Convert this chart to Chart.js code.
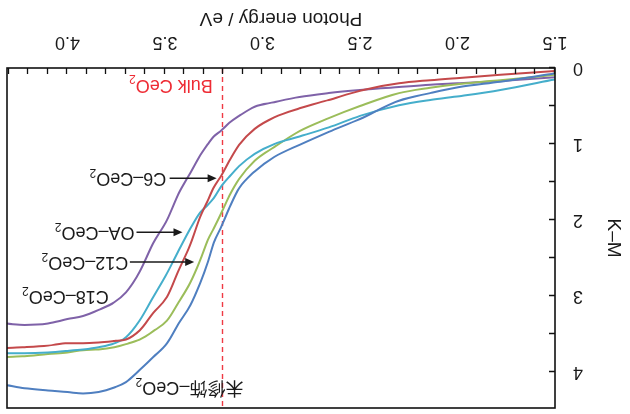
<!DOCTYPE html>
<html><head><meta charset="utf-8">
<script src="https://cdn.jsdelivr.net/npm/chart.js@4.4.0/dist/chart.umd.min.js"></script>
<style>
html,body{margin:0;padding:0;background:#fff;}
#wrap{width:630px;height:414px;transform:rotate(180deg);transform-origin:50% 50%;}
canvas{display:block;}
</style>
</head><body>
<div id="wrap"><canvas id="c" width="630" height="414"></canvas></div>
<script>
// Photon energy (eV)
const energy = [1.50,1.78,1.99,2.14,2.30,2.50,2.66,2.81,2.94,3.04,3.12,3.17,3.21,3.25,3.28,3.32,3.37,3.43,3.49,3.56,3.63,3.70,3.76,3.84,3.92,4.00,4.10,4.22,4.31];
// K-M values
const kmUnmod = [0.07,0.18,0.25,0.33,0.43,0.67,0.84,1.01,1.17,1.36,1.58,1.84,2.08,2.30,2.55,2.83,3.12,3.36,3.62,3.80,3.97,4.13,4.20,4.26,4.28,4.26,4.24,4.21,4.17];
const kmC6 = [0.04,0.09,0.13,0.16,0.20,0.30,0.42,0.53,0.65,0.80,1.01,1.22,1.41,1.57,1.74,1.96,2.32,2.66,3.01,3.22,3.45,3.57,3.59,3.61,3.62,3.62,3.65,3.67,3.68];
const kmOA = [0.15,0.29,0.37,0.42,0.49,0.63,0.78,0.90,1.00,1.13,1.29,1.43,1.55,1.71,1.80,1.90,2.11,2.40,2.70,3.01,3.32,3.54,3.62,3.67,3.70,3.72,3.74,3.75,3.75];
const kmC12 = [0.09,0.16,0.21,0.26,0.33,0.50,0.66,0.83,1.04,1.22,1.46,1.68,1.90,2.11,2.26,2.53,2.82,3.08,3.32,3.46,3.57,3.63,3.67,3.70,3.71,3.74,3.76,3.79,3.80];
const kmC18 = [0.12,0.17,0.20,0.22,0.25,0.29,0.33,0.38,0.45,0.51,0.63,0.72,0.82,0.90,1.00,1.15,1.38,1.65,2.00,2.30,2.68,2.95,3.08,3.18,3.26,3.30,3.36,3.38,3.36];
const seriesNames = ['未修饰–CeO2','C6–CeO2','OA–CeO2','C12–CeO2','C18–CeO2'];
const xTickValues = [1.5,2.0,2.5,3.0,3.5,4.0];
const yTickValues = [0,1,2,3,4];
const bulkGap = 3.2;

const FONT = '"Liberation Sans", Arial, "Noto Sans CJK SC", sans-serif';
const colors = ['#4f7fc0','#c4494b','#45aecb','#9bbd5a','#7f62a8'];
const seriesData = [kmUnmod,kmC6,kmOA,kmC12,kmC18];

const notes = [
  {main:'Bulk CeO', sub:'2', e:3.255, km:0.22, align:'left', color:'#ee2b34'},
  {main:'C6–CeO', sub:'2', e:3.69, km:1.45, align:'center', color:'#1a1a1a', arrow:[3.476,3.235]},
  {main:'OA–CeO', sub:'2', e:3.86, km:2.16, align:'center', color:'#1a1a1a', arrow:[3.646,3.41]},
  {main:'C12–CeO', sub:'2', e:3.91, km:2.55, align:'center', color:'#1a1a1a', arrow:[3.68,3.35]},
  {main:'C18–CeO', sub:'2', e:4.01, km:3.0, align:'center', color:'#1a1a1a'},
  {main:'未修饰–CeO', sub:'2', e:3.374, km:4.2, align:'center', color:'#1a1a1a'}
];

function drawSubLabel(ctx, n, x, y){
  const size = 18, subSize = 12;
  const mf = size + 'px ' + FONT, sf = subSize + 'px ' + FONT;
  ctx.font = mf; const w1 = ctx.measureText(n.main).width;
  ctx.font = sf; const w2 = ctx.measureText(n.sub).width;
  const tot = w1 + w2;
  let sx = n.align === 'left' ? x : (n.align === 'right' ? x - tot : x - tot/2);
  ctx.fillStyle = n.color; ctx.textAlign = 'left'; ctx.textBaseline = 'middle';
  ctx.font = mf; ctx.fillText(n.main, sx, y);
  ctx.font = sf; ctx.fillText(n.sub, sx + w1, y + 6);
}

const deco = {
  id:'deco',
  beforeDatasetsDraw(chart){
    const {ctx, chartArea:a, scales:{x}} = chart;
    ctx.save();
    ctx.strokeStyle = '#ef3a44'; ctx.lineWidth = 1.4; ctx.setLineDash([5,4]);
    const bx = Math.round(x.getPixelForValue(bulkGap)) + 0.5;
    ctx.beginPath(); ctx.moveTo(bx, a.bottom); ctx.lineTo(bx, a.top); ctx.stroke();
    ctx.restore();
  },
  afterDatasetsDraw(chart){
    const {ctx, chartArea:a, scales:{x,y}} = chart;
    ctx.save();
    ctx.strokeStyle = '#111'; ctx.lineWidth = 1.6;
    ctx.strokeRect(a.left, a.top, a.right - a.left, a.bottom - a.top);
    ctx.lineWidth = 1.3;
    ctx.beginPath();
    for (let i = 15; i <= 43; i++) {
      const px = Math.round(x.getPixelForValue(i/10)) + 0.5;
      ctx.moveTo(px, a.bottom); ctx.lineTo(px, a.bottom - 6);
    }
    for (let j = 0; j <= 8; j++) {
      const py = Math.round(y.getPixelForValue(j/2)) + 0.5;
      ctx.moveTo(a.left, py); ctx.lineTo(a.left + 6, py);
    }
    ctx.stroke();
    notes.forEach(n => {
      const px = x.getPixelForValue(n.e), py = y.getPixelForValue(n.km);
      drawSubLabel(ctx, n, px, py);
      if (n.arrow) {
        const x1 = x.getPixelForValue(n.arrow[0]), x2 = x.getPixelForValue(n.arrow[1]);
        ctx.strokeStyle = '#1a1a1a'; ctx.fillStyle = '#1a1a1a'; ctx.lineWidth = 1.6;
        ctx.beginPath(); ctx.moveTo(x1, py); ctx.lineTo(x2 + 7, py); ctx.stroke();
        ctx.beginPath(); ctx.moveTo(x2, py); ctx.lineTo(x2 + 9, py - 4); ctx.lineTo(x2 + 9, py + 4); ctx.closePath(); ctx.fill();
      }
    });
    ctx.restore();
  }
};

function noPad(s){ s.paddingTop = 0; s.paddingBottom = 0; s.paddingLeft = 0; s.paddingRight = 0; }

new Chart(document.getElementById('c'), {
  type:'line',
  data:{
    datasets: seriesNames.map((nm,i) => ({
      label:nm,
      data: energy.map((e,k) => ({x:e, y:seriesData[i][k]})),
      borderColor: colors[i], borderWidth: 2, pointRadius: 0, cubicInterpolationMode:'monotone', fill:false
    }))
  },
  options:{
    responsive:false, animation:false, devicePixelRatio:1,
    layout:{padding:{top:6, right:7, left:0, bottom:0}},
    plugins:{legend:{display:false}, tooltip:{enabled:false}},
    scales:{
      x:{
        type:'linear', min:1.5, max:4.31,
        afterBuildTicks: s => { s.ticks = xTickValues.map(v => ({value:v})); },
        afterFit: s => { s.height = 68; noPad(s); },
        grid:{display:false, drawTicks:false},
        border:{display:false},
        ticks:{padding:15, color:'#1a1a1a', font:{family:FONT, size:18}, callback: v => Number(v).toFixed(1), maxRotation:0, autoSkip:false},
        title:{display:true, text:'Photon energy / eV', color:'#1a1a1a', font:{family:FONT, size:19}, padding:{top:0, bottom:7}}
      },
      y:{
        type:'linear', min:0, max:4.47,
        afterBuildTicks: s => { s.ticks = yTickValues.map(v => ({value:v})); },
        afterFit: s => { s.width = 75; noPad(s); },
        grid:{display:false, drawTicks:false},
        border:{display:false},
        ticks:{padding:18, color:'#1a1a1a', font:{family:FONT, size:18}, callback: v => String(v)},
        title:{display:true, text:'K–M', color:'#1a1a1a', font:{family:FONT, size:19}, padding:{top:5, bottom:0}}
      }
    }
  },
  plugins:[deco]
});
</script>
</body></html>
